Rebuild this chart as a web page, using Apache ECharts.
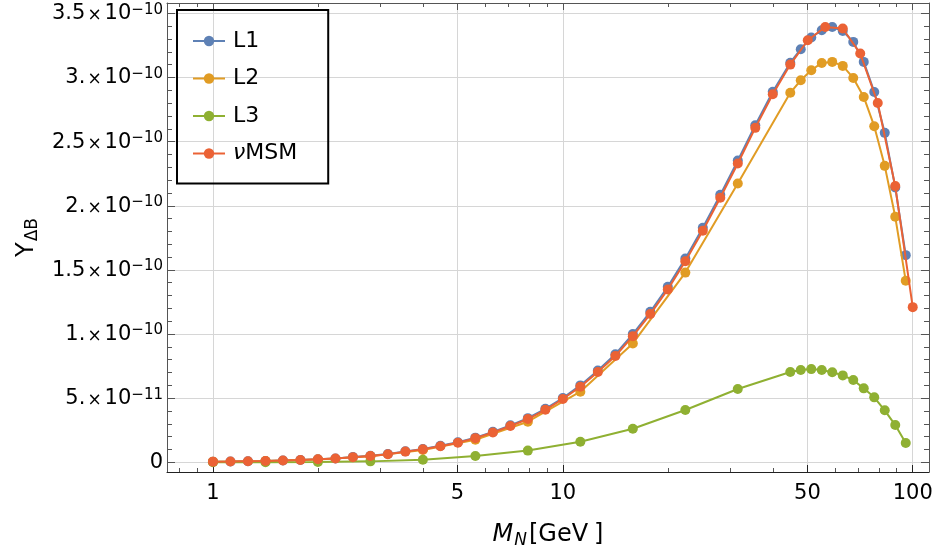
<!DOCTYPE html>
<html>
<head>
<meta charset="utf-8">
<script src="https://cdn.jsdelivr.net/npm/echarts@6/dist/echarts.min.js"></script>
<style>
  html, body { margin: 0; padding: 0; background: #fff; }
  #chart { width: 939px; height: 554px; }
</style>
</head>
<body>
<div id="chart"></div>
<script>
// Heavy neutrino mass M_N [GeV] sampled for each model
const massNuMSM = [1, 1.122, 1.259, 1.413, 1.585, 1.778, 1.995, 2.239, 2.512, 2.818,
  3.162, 3.548, 3.981, 4.467, 5.012, 5.623, 6.310, 7.079, 7.943, 8.913,
  10, 11.22, 12.59, 14.13, 15.85, 17.78, 19.95, 22.39, 25.12, 28.18,
  31.62, 35.48, 39.81, 44.67, 50.12, 56.23, 63.10, 70.79, 79.43, 89.13, 100];
const massL1 = [1, 1.122, 1.259, 1.413, 1.585, 1.778, 1.995, 2.239, 2.512, 2.818,
  3.162, 3.548, 3.981, 4.467, 5.012, 5.623, 6.310, 7.079, 7.943, 8.913,
  10, 11.22, 12.59, 14.13, 15.85, 17.78, 19.95, 22.39, 25.12, 28.18,
  31.62, 35.48, 39.81, 44.67, 47.86, 51.29, 54.95, 58.88, 63.10, 67.61,
  72.44, 77.62, 83.18, 89.13, 95.50];
const massL2L3 = [1, 1.413, 1.995, 2.818, 3.981, 5.623, 7.943, 11.22, 15.85, 22.39,
  31.62, 44.67, 47.86, 51.29, 54.95, 58.88, 63.10, 67.61, 72.44, 77.62,
  83.18, 89.13, 95.50];

// Baryon asymmetry Y_ΔB, in units of 1e-10
const yL1 = [0.006, 0.007, 0.009, 0.011, 0.015, 0.019, 0.025, 0.031, 0.042, 0.051,
  0.065, 0.086, 0.105, 0.129, 0.157, 0.193, 0.238, 0.289, 0.345, 0.418,
  0.502, 0.600, 0.716, 0.843, 1.000, 1.174, 1.368, 1.588, 1.828, 2.085,
  2.352, 2.628, 2.888, 3.115, 3.220, 3.311, 3.368, 3.393, 3.362, 3.277,
  3.121, 2.887, 2.568, 2.143, 1.615];
const yL2 = [0.005, 0.010, 0.023, 0.047, 0.097, 0.176, 0.317, 0.551, 0.927, 1.479,
  2.174, 2.880, 2.978, 3.056, 3.113, 3.121, 3.090, 2.996, 2.848, 2.620,
  2.311, 1.914, 1.415];
const yL3 = [0.001, 0.002, 0.003, 0.008, 0.021, 0.050, 0.092, 0.161, 0.262, 0.408,
  0.572, 0.704, 0.720, 0.727, 0.720, 0.702, 0.678, 0.642, 0.577, 0.507,
  0.406, 0.291, 0.151];
const yNuMSM = [0.006, 0.007, 0.009, 0.011, 0.015, 0.019, 0.025, 0.030, 0.041, 0.050,
  0.064, 0.084, 0.103, 0.126, 0.153, 0.189, 0.233, 0.283, 0.338, 0.410,
  0.494, 0.590, 0.704, 0.829, 0.984, 1.156, 1.348, 1.567, 1.805, 2.062,
  2.329, 2.607, 2.869, 3.100, 3.290, 3.393, 3.381, 3.186, 2.801, 2.153, 1.210];

const seriesNames = ['L1', 'L2', 'L3', 'νMSM'];

// Axis ticks
const xTickValues = [1, 5, 10, 50, 100];
const xTickLabels = ['1', '5', '10', '50', '100'];
const xMinorTicks = [0.8, 0.9, 2, 3, 4, 6, 7, 8, 9, 20, 30, 40, 60, 70, 80, 90];
const yTickValues = [0, 0.5, 1, 1.5, 2, 2.5, 3, 3.5];
const yTickMantissa = ['0', '5.', '1.', '1.5', '2.', '2.5', '3.', '3.5'];
const yTickExponent = ['', '−11', '−10', '−10', '−10', '−10', '−10', '−10'];
const yMinorTicks = [0.1, 0.2, 0.3, 0.4, 0.6, 0.7, 0.8, 0.9, 1.1, 1.2, 1.3, 1.4,
  1.6, 1.7, 1.8, 1.9, 2.1, 2.2, 2.3, 2.4, 2.6, 2.7, 2.8, 2.9, 3.1, 3.2, 3.3, 3.4];

const xMin = 0.739, xMax = 111.3;
const yMin = -0.0748, yMax = 3.58;

const colors = ['#5E81B5', '#E19C24', '#8FB032', '#EB6235'];
const FONT = 'DejaVu Sans';
const FRAME = '#555';
const GRID = '#d6d6d6';

const lg = v => Math.log10(v);
const pairs = (xs, ys) => xs.map((x, i) => [x, ys[i]]);

function yLabel(v) {
  const i = yTickValues.findIndex(t => Math.abs(t - v) < 1e-6);
  if (i < 0) return '';
  if (yTickExponent[i] === '') return '{m|' + yTickMantissa[i] + '}';
  return '{m|' + yTickMantissa[i] + '}{x|×}{m|10}{e|' + yTickExponent[i] + '}';
}
function xLabel(v) {
  const i = xTickValues.findIndex(t => Math.abs(lg(t) - v) < 1e-6);
  return i < 0 ? '' : xTickLabels[i];
}

const hidden = { axisLine: { show: false }, axisTick: { show: false }, axisLabel: { show: false }, splitLine: { show: false } };
const xRange = { min: lg(xMin), max: lg(xMax) };
const yRange = { min: yMin, max: yMax };

// overlay axis carrying only a frame line and/or inward ticks
function frameAxis(type, position, range, ticks, len, withLine) {
  return Object.assign({
    type: type, position: position,
    axisLine: { show: withLine, onZero: false, lineStyle: { color: FRAME, width: 1 } },
    axisTick: { show: true, inside: true, length: len, customValues: ticks, lineStyle: { color: FRAME } },
    axisLabel: { show: false }, splitLine: { show: false }
  }, range);
}

const chart = echarts.init(document.getElementById('chart'), null, { renderer: 'canvas' });
chart.setOption({
  animation: false,
  backgroundColor: '#fff',
  textStyle: { fontFamily: FONT },
  grid: { left: 167, right: 10, top: 3, bottom: 82, containLabel: false },
  legend: {
    orient: 'vertical', left: 177, top: 10,
    padding: [20, 31, 19, 15],
    borderColor: '#000', borderWidth: 2,
    itemWidth: 32, itemHeight: 13, itemGap: 15.5,
    data: seriesNames,
    textStyle: { fontFamily: FONT, fontSize: 22, color: '#000', lineHeight: 22, padding: [0, 0, 0, 3],
      rich: { i: { fontStyle: 'italic', fontSize: 22, fontFamily: FONT }, n: { fontSize: 22, fontFamily: FONT } } },
    formatter: name => name === 'νMSM' ? '{i|ν}{n|MSM}' : name
  },
  xAxis: [
    // data axis (log scale); its decorations come from the overlay axes below
    Object.assign({ type: 'log', logBase: 10, min: xMin, max: xMax, position: 'bottom' }, hidden),
    // bottom frame, major ticks, labels and vertical grid lines
    Object.assign({
      type: 'value', position: 'bottom',
      name: '{i|M}{s|N}{r|[GeV}{b|]}', nameLocation: 'middle', nameGap: 51,
      nameTextStyle: { color: '#000', fontFamily: FONT, fontSize: 24,
        rich: {
          i: { fontStyle: 'italic', fontSize: 24, fontFamily: FONT, lineHeight: 26, verticalAlign: 'top' },
          s: { fontStyle: 'italic', fontSize: 17, fontFamily: FONT, lineHeight: 17, padding: [15, 2, 0, 1], verticalAlign: 'bottom' },
          r: { fontSize: 24, fontFamily: FONT, lineHeight: 26, verticalAlign: 'top' },
          b: { fontSize: 24, fontFamily: FONT, lineHeight: 26, verticalAlign: 'top', padding: [0, 0, 0, 6] }
        } },
      axisLine: { show: true, onZero: false, lineStyle: { color: '#222', width: 1 } },
      axisTick: { show: true, inside: true, length: 7, customValues: xTickValues.map(lg), lineStyle: { color: '#222' } },
      axisLabel: { show: true, customValues: xTickValues.map(lg), formatter: xLabel, margin: 11, color: '#000', fontSize: 21, fontFamily: FONT },
      splitLine: { show: true, lineStyle: { color: GRID, width: 1 } }
    }, xRange),
    frameAxis('value', 'bottom', xRange, xMinorTicks.map(lg), 4, false),
    frameAxis('value', 'top', xRange, xTickValues.map(lg), 7, true),
    frameAxis('value', 'top', xRange, xMinorTicks.map(lg), 4, false)
  ],
  yAxis: [
    Object.assign({
      type: 'value', position: 'left',
      name: '{y|Y}{s|ΔB}', nameLocation: 'middle', nameGap: 124, nameRotate: 90,
      nameTextStyle: { color: '#000', fontFamily: FONT, fontSize: 24,
        rich: {
          y: { fontSize: 24, fontFamily: FONT, lineHeight: 26, verticalAlign: 'top' },
          s: { fontSize: 17, fontFamily: FONT, lineHeight: 17, padding: [14, 0, 0, 1], verticalAlign: 'bottom' }
        } },
      axisLine: { show: true, onZero: false, lineStyle: { color: FRAME, width: 1 } },
      axisTick: { show: true, inside: true, length: 8, customValues: yTickValues, lineStyle: { color: FRAME } },
      axisLabel: { show: true, customValues: yTickValues, formatter: yLabel, margin: 4, color: '#000',
        rich: {
          m: { fontSize: 21, fontFamily: FONT, color: '#000', lineHeight: 22, verticalAlign: 'bottom' },
          x: { fontSize: 17, fontFamily: FONT, color: '#000', lineHeight: 22, verticalAlign: 'bottom', padding: [0, 3, 0, 2] },
          e: { fontSize: 15, fontFamily: FONT, color: '#000', lineHeight: 15, verticalAlign: 'top', padding: [0, 0, 14, 0] }
        } },
      splitLine: { show: true, lineStyle: { color: GRID, width: 1 } }
    }, yRange),
    frameAxis('value', 'left', yRange, yMinorTicks, 5, false),
    frameAxis('value', 'right', yRange, yTickValues, 8, true),
    frameAxis('value', 'right', yRange, yMinorTicks, 5, false)
  ],
  series: [
    [massL1, yL1], [massL2L3, yL2], [massL2L3, yL3], [massNuMSM, yNuMSM]
  ].map(([xs, ys], k) => ({
    name: seriesNames[k], type: 'line', xAxisIndex: 0, yAxisIndex: 0,
    data: pairs(xs, ys), symbol: 'circle', symbolSize: 10, showSymbol: true,
    itemStyle: { color: colors[k] },
    lineStyle: { color: colors[k], width: 2 }, z: 2 + k
  }))
});
</script>
</body>
</html>
